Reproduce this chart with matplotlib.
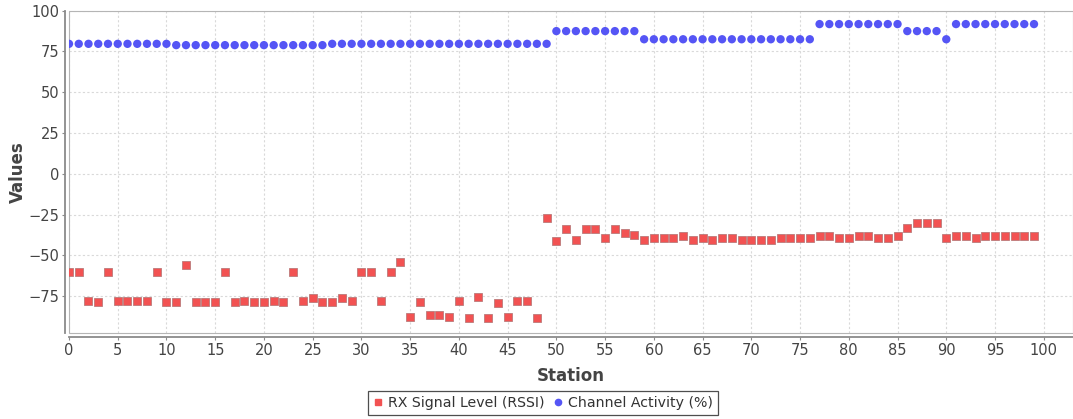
import matplotlib
matplotlib.use("Agg")
import matplotlib.pyplot as plt
from matplotlib.lines import Line2D
from matplotlib.patches import Rectangle

# Station indices
stations = list(range(100))

# RX signal level (RSSI) per station
rssi = [
    -60, -60, -78, -78.5, -60, -78, -78, -78, -78, -60,
    -78.5, -78.5, -56, -78.5, -78.5, -78.5, -60, -78.5, -78, -78.5,
    -78.5, -78, -78.5, -60, -78, -76, -78.3, -78.3, -76, -77.7,
    -60, -60, -78, -60, -54, -87.5, -78.3, -86.3, -86.3, -87.5,
    -77.7, -88.5, -75.5, -88.5, -79.2, -87.5, -77.7, -77.7, -88.5, -27.3,
    -41, -34, -40.4, -34, -34, -39, -34, -36, -37.3, -40.4,
    -39, -39, -39, -38, -40.4, -39, -40.4, -39, -39, -40.4,
    -40.4, -40.4, -40.4, -39, -39, -39, -39, -38, -38, -39,
    -39, -38, -38, -39, -39, -38, -33.4, -30, -30, -30,
    -39, -38, -38, -39, -38, -38, -38, -38, -38, -38,
]

# Channel activity (%) per station
activity = [
    79.7, 79.7, 79.7, 79.7, 79.7, 79.7, 79.7, 79.7, 79.7, 79.7,
    79.7, 78.9, 78.9, 78.9, 78.9, 78.9, 78.9, 78.9, 78.9, 78.9,
    78.9, 78.9, 78.9, 78.9, 78.9, 78.9, 78.9, 79.7, 79.7, 79.7,
    79.7, 79.7, 79.7, 79.7, 79.7, 79.7, 79.7, 79.7, 79.7, 79.7,
    79.7, 79.7, 79.7, 79.7, 79.7, 79.7, 79.7, 79.7, 79.7, 79.7,
    87.5, 87.5, 87.5, 87.5, 87.5, 87.5, 87.5, 87.5, 87.5, 82.5,
    82.5, 82.5, 82.5, 82.5, 82.5, 82.5, 82.5, 82.5, 82.5, 82.5,
    82.5, 82.5, 82.5, 82.5, 82.5, 82.5, 82.5, 91.8, 91.8, 91.8,
    91.8, 91.8, 91.8, 91.8, 91.8, 91.8, 87.5, 87.5, 87.5, 87.5,
    82.5, 91.8, 91.8, 91.8, 91.8, 91.8, 91.8, 91.8, 91.8, 91.8,
]

x_ticks = [0, 5, 10, 15, 20, 25, 30, 35, 40, 45, 50, 55, 60, 65, 70, 75, 80, 85, 90, 95, 100]
y_ticks = [-75, -50, -25, 0, 25, 50, 75, 100]

RED = "#f25252"
BLUE = "#5555f5"
TEXT = "#444444"
AXIS = "#8a8a8a"

plt.rcParams["font.family"] = ["DejaVu Sans"]

fig = plt.figure(figsize=(10.73, 4.19), dpi=100)
W, H = 1073, 419
left, right, top, bottom = 69, 1073, 10.7, 333
ax = fig.add_axes([left / W, 1 - bottom / H, (right - left) / W, (bottom - top) / H])

ax.scatter(stations, rssi, marker="s", s=5.2 ** 2, color=RED,
           edgecolors="#b07070", linewidths=0.5, zorder=3)
ax.scatter(stations, activity, marker="o", s=6.0 ** 2, color=BLUE,
           edgecolors="none", zorder=3)

ax.set_xlim(0, 103)
ax.set_ylim(-97.5, 100)
ax.set_xticks(x_ticks)
ax.set_yticks(y_ticks)

ax.grid(True, color="#d9d9d9", linestyle=(0, (2, 2)), linewidth=0.8, zorder=0)
ax.set_axisbelow(True)

for s in ("top", "right"):
    ax.spines[s].set_visible(False)
for s in ("left", "bottom"):
    ax.spines[s].set_position(("outward", 3))
    ax.spines[s].set_color(AXIS)
    ax.spines[s].set_linewidth(1.3)

# plot area outline
ax.add_patch(Rectangle((0, 0), 1, 1, transform=ax.transAxes, fill=False,
                       edgecolor="#b5b5b5", linewidth=0.8, clip_on=False, zorder=1))

ax.tick_params(axis="both", direction="out", length=2, width=0.8, color=AXIS,
               labelcolor=TEXT, labelsize=10.5, pad=2)

ax.set_xlabel("Station", fontsize=12, fontweight="bold", color=TEXT)
ax.set_ylabel("Values", fontsize=12, fontweight="bold", color=TEXT)
ax.xaxis.set_label_coords(0.5, -0.105)
ax.yaxis.set_label_coords(-0.042, 0.5)

handles = [
    Line2D([], [], marker="s", linestyle="none", color=RED, markersize=5),
    Line2D([], [], marker="o", linestyle="none", color=BLUE, markersize=4.5),
]
leg = fig.legend(handles, ["RX Signal Level (RSSI)", "Channel Activity (%)"],
                 loc="center", bbox_to_anchor=(543 / W, 1 - 403 / H), ncol=2,
                 fontsize=10.2, frameon=True, fancybox=False, borderpad=0.35,
                 handlelength=0.7, handletextpad=0.35, columnspacing=0.6,
                 borderaxespad=0.2, labelcolor="#333333")
leg.get_frame().set_edgecolor("#222222")
leg.get_frame().set_linewidth(0.9)

fig.savefig("out.png", dpi=100)
